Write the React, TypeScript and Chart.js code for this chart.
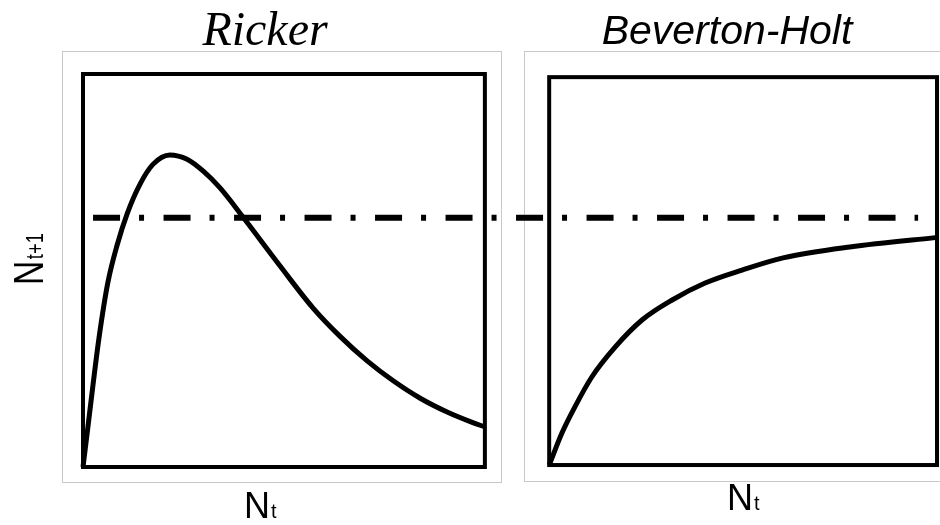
import React, { useEffect, useRef } from "react";
import { Chart, registerables } from "chart.js";

Chart.register(...registerables);

// Data (x in N_t units, y in N_{t+1} units). Right panel is offset on the shared x-axis.
const rickerX = [0, 0.012, 0.025, 0.04, 0.062, 0.085, 0.11, 0.142, 0.174, 0.216, 0.259, 0.3, 0.341, 0.398, 0.49, 0.572, 0.639, 0.707, 0.771, 0.839, 0.906, 0.97, 1.0];
const rickerY = [0, 0.1, 0.21, 0.33, 0.47, 0.565, 0.645, 0.72, 0.77, 0.794, 0.783, 0.752, 0.71, 0.636, 0.512, 0.405, 0.333, 0.27, 0.22, 0.175, 0.14, 0.113, 0.102];

const bhX = [1.16, 1.192, 1.224, 1.266, 1.324, 1.391, 1.466, 1.548, 1.64, 1.742, 1.908, 2.115, 2.125];
const bhY = [0.005, 0.087, 0.153, 0.229, 0.305, 0.374, 0.425, 0.468, 0.501, 0.532, 0.56, 0.583, 0.584];

const equilibriumX = [0.025, 2.078];
const equilibriumY = [0.634, 0.634];

const panelTitles = ["Ricker", "Beverton-Holt"];
const xLabel = ["N", "t"];
const yLabel = ["N", "t+1"];

// panel extents on the shared axes
const leftBox = { x0: 0, x1: 1, y0: 0, y1: 1 };
const rightBox = { x0: 1.16, x1: 2.125, y0: 0.005, y1: 0.992 };
const X_MAX = 2.125;

const pts = (xs: number[], ys: number[]) => xs.map((x, i) => ({ x, y: ys[i] }));

const framePlugin = {
  id: "frames",
  beforeDatasetsDraw(chart: any) {
    const { ctx } = chart;
    const xs = chart.scales.x;
    const ys = chart.scales.y;
    ctx.save();
    // light gray outer frames
    ctx.strokeStyle = "#c8c8c8";
    ctx.lineWidth = 1;
    ctx.strokeRect(62.5, 51.5, 439, 431);
    ctx.strokeRect(524.5, 51.5, 430, 430);
    // black panel boxes
    ctx.strokeStyle = "#000";
    ctx.lineWidth = 4;
    for (const b of [leftBox, rightBox]) {
      const l = xs.getPixelForValue(b.x0);
      const r = xs.getPixelForValue(b.x1);
      const t = ys.getPixelForValue(b.y1);
      const btm = ys.getPixelForValue(b.y0);
      ctx.strokeRect(l, t, r - l, btm - t);
    }
    ctx.restore();
  },
  afterDraw(chart: any) {
    const { ctx } = chart;
    ctx.save();
    ctx.fillStyle = "#000";
    ctx.textBaseline = "alphabetic";
    // titles
    ctx.textAlign = "center";
    ctx.font = "italic 48px 'Liberation Serif'";
    ctx.fillText(panelTitles[0], 265, 45);
    ctx.font = "italic 41px 'Liberation Sans'";
    ctx.fillText(panelTitles[1], 727, 44);
    // x labels
    ctx.textAlign = "left";
    const drawNt = (x: number, base: number) => {
      ctx.font = "36px 'Liberation Sans'";
      ctx.fillText(xLabel[0], x, base);
      const w = ctx.measureText(xLabel[0]).width;
      ctx.font = "20px 'Liberation Sans'";
      ctx.fillText(xLabel[1], x + w + 1, base);
    };
    drawNt(244, 518);
    drawNt(727, 510);
    // y label
    ctx.translate(43, 285);
    ctx.rotate(-Math.PI / 2);
    ctx.scale(0.8, 1);
    ctx.font = "42px 'Liberation Sans'";
    ctx.fillText(yLabel[0], 0, 0);
    const wn = ctx.measureText(yLabel[0]).width;
    ctx.font = "23px 'Liberation Sans'";
    ctx.fillText(yLabel[1], wn + 2, 0);
    ctx.restore();
  },
};

export default function App() {
  const ref = useRef<HTMLCanvasElement>(null);
  useEffect(() => {
    document.body.style.margin = "0";
    const chart = new Chart(ref.current!, {
      type: "line",
      data: {
        datasets: [
          {
            label: "Ricker",
            data: pts(rickerX, rickerY),
            borderColor: "#000",
            borderWidth: 5,
            pointRadius: 0,
            cubicInterpolationMode: "monotone",
            clip: false as any,
          },
          {
            label: "Beverton-Holt",
            data: pts(bhX, bhY),
            borderColor: "#000",
            borderWidth: 5,
            pointRadius: 0,
            cubicInterpolationMode: "monotone",
            clip: false as any,
          },
          {
            label: "Equilibrium",
            data: pts(equilibriumX, equilibriumY),
            borderColor: "#000",
            borderWidth: 6,
            borderDash: [27, 19, 5, 19.5],
            borderCapStyle: "butt",
            pointRadius: 0,
            clip: false as any,
          },
        ],
      },
      options: {
        responsive: false,
        animation: false,
        events: [],
        layout: { padding: { left: 83, right: 3, top: 74, bottom: 58 } },
        plugins: { legend: { display: false }, tooltip: { enabled: false } },
        scales: {
          x: { type: "linear", min: 0, max: X_MAX, display: false },
          y: { type: "linear", min: 0, max: 1, display: false },
        },
      },
      plugins: [framePlugin],
    });
    return () => chart.destroy();
  }, []);
  return (
    <div style={{ position: "fixed", left: 0, top: 0, width: 940, height: 525, background: "#fff" }}>
      <canvas ref={ref} width={940} height={525} style={{ display: "block" }} />
    </div>
  );
}
